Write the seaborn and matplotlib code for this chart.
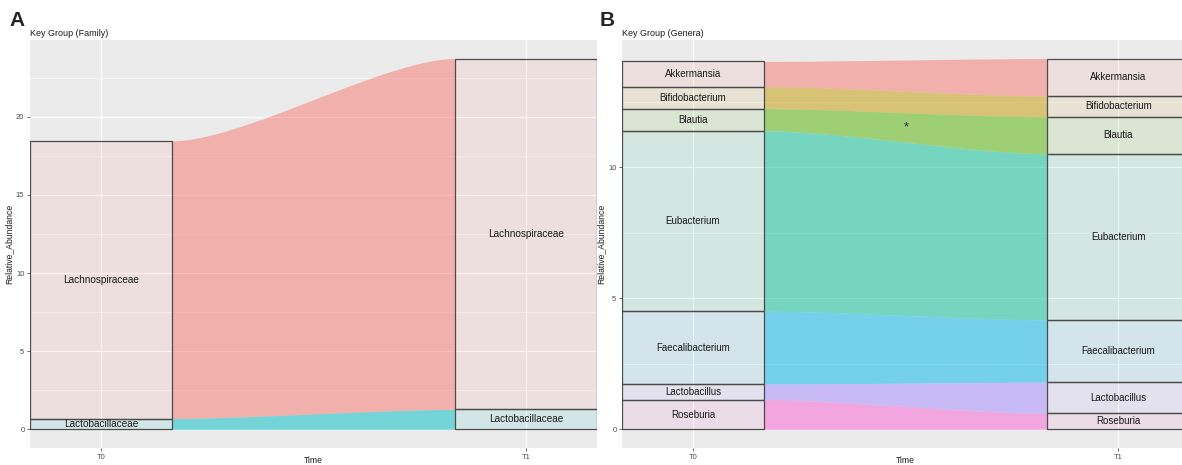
import numpy as np
import matplotlib
matplotlib.use("Agg")
import matplotlib.pyplot as plt
from matplotlib.ticker import MultipleLocator
import seaborn as sns

# ---- data -------------------------------------------------------------
times = ["T0", "T1"]

family_names = ["Lachnospiraceae", "Lactobacillaceae"]
family_t0 = [17.77, 0.70]
family_t1 = [22.45, 1.28]
family_colors = ["#F8766D", "#00BFC4"]

genus_names = ["Akkermansia", "Bifidobacterium", "Blautia", "Eubacterium",
               "Faecalibacterium", "Lactobacillus", "Roseburia"]
genus_t0 = [0.96, 0.84, 0.84, 6.88, 2.78, 0.60, 1.13]
genus_t1 = [1.43, 0.79, 1.41, 6.33, 2.38, 1.19, 0.61]
genus_colors = ["#F8766D", "#C49A00", "#53B400", "#00C094",
                "#00B6EB", "#A58AFF", "#FB61D7"]
genus_marks = {"Blautia": "*"}

# ---- style --------------------------------------------------------------
sns.set_theme(style="darkgrid", rc={
    "axes.facecolor": "#EBEBEB",
    "grid.color": "white",
    "axes.edgecolor": "#EBEBEB",
    "xtick.color": "#4D4D4D",
    "ytick.color": "#4D4D4D",
    "xtick.bottom": True,
    "ytick.left": True,
})
plt.rcParams["font.family"] = ["Liberation Sans", "DejaVu Sans"]

W = 1182 / 100
H = 465 / 100
fig = plt.figure(figsize=(W, H), dpi=100)


def px_axes(left, right, top, bottom):
    return fig.add_axes([left / 1182, (465 - bottom) / 465,
                         (right - left) / 1182, (bottom - top) / 465])


def bezier_flow(n=200, w=1 / 3, knot=0.25):
    t = np.linspace(0, 1, n)
    x0, x1 = 1 + w / 2, 2 - w / 2
    dx = x1 - x0
    xs = x0 + dx * (3 * knot * t * (1 - t) ** 2
                    + 3 * (1 - knot) * t ** 2 * (1 - t) + t ** 3)
    s = 3 * t ** 2 - 2 * t ** 3
    return xs, s


def alluvial(ax, names, v0, v1, colors, marks=None, fs=7.0):
    w = 1 / 3
    # stack in listed order from the top: last name sits at the bottom
    b0 = np.concatenate([[0], np.cumsum(v0[::-1])])[::-1]
    b1 = np.concatenate([[0], np.cumsum(v1[::-1])])[::-1]
    lo0, hi0 = b0[1:], b0[:-1]
    lo1, hi1 = b1[1:], b1[:-1]
    xs, s = bezier_flow(w=w)
    for i, name in enumerate(names):
        c = colors[i]
        lower = lo0[i] + (lo1[i] - lo0[i]) * s
        upper = hi0[i] + (hi1[i] - hi0[i]) * s
        ax.fill_between(xs, lower, upper, color=c, alpha=0.5, lw=0, zorder=2)
        for xc, lo, hi in ((1, lo0[i], hi0[i]), (2, lo1[i], hi1[i])):
            ax.bar(xc, hi - lo, bottom=lo, width=w, color=c, alpha=0.1,
                   lw=0, zorder=2)
            ax.bar(xc, hi - lo, bottom=lo, width=w, fill=False,
                   edgecolor="#4a4a4a", lw=0.9, zorder=3)
            ax.text(xc, (lo + hi) / 2, name, ha="center", va="center",
                    fontsize=fs, color="#1a1a1a", zorder=4)
        if marks and name in marks:
            k = np.searchsorted(xs, 1.5)
            ax.text(xs[k], (lower[k] + upper[k]) / 2, marks[name],
                    ha="center", va="center", fontsize=9,
                    color="#1a1a1a", zorder=4)
    top = max(b0[0], b1[0])
    pad = 0.05 * top
    ax.set_ylim(-pad, top + pad)
    ax.set_xlim(1 - w / 2, 2 + w / 2)
    ax.set_xticks([1, 2])
    ax.set_xticklabels(times)
    ax.yaxis.set_major_locator(MultipleLocator(5))
    ax.yaxis.set_minor_locator(MultipleLocator(2.5))
    ax.grid(True, which="major", lw=0.9, zorder=0)
    ax.grid(True, which="minor", axis="y", lw=0.45, zorder=0)
    ax.set_axisbelow(True)
    ax.tick_params(axis="both", which="major", labelsize=5.5, length=2.5,
                   width=0.6, pad=1.5)
    ax.tick_params(axis="y", which="minor", length=0)
    for sp in ax.spines.values():
        sp.set_visible(False)
    ax.set_ylabel("Relative_Abundance", fontsize=6.2, color="#1a1a1a")
    ax.yaxis.set_label_coords(-0.029, 0.5)
    ax.set_xlabel("Time", fontsize=6.2, color="#1a1a1a")
    ax.xaxis.set_label_coords(0.5, -0.02)


axA = px_axes(30, 597, 40, 448)
alluvial(axA, family_names, family_t0, family_t1, family_colors, fs=7.2)
axA.set_title("Key Group (Family)", loc="left", fontsize=6.5, pad=3,
              color="#1a1a1a")
fig.text(9 / 1182, 1 - 20 / 465, "A", fontsize=15, fontweight="bold",
         va="center", ha="left")

axB = px_axes(622, 1189, 40, 448)
alluvial(axB, genus_names, genus_t0, genus_t1, genus_colors,
         marks=genus_marks, fs=7.0)
axB.set_title("Key Group (Genera)", loc="left", fontsize=6.5, pad=3,
              color="#1a1a1a")
fig.text(600 / 1182, 1 - 20 / 465, "B", fontsize=15, fontweight="bold",
         va="center", ha="left")

fig.savefig("out.png", dpi=100, facecolor="white")
